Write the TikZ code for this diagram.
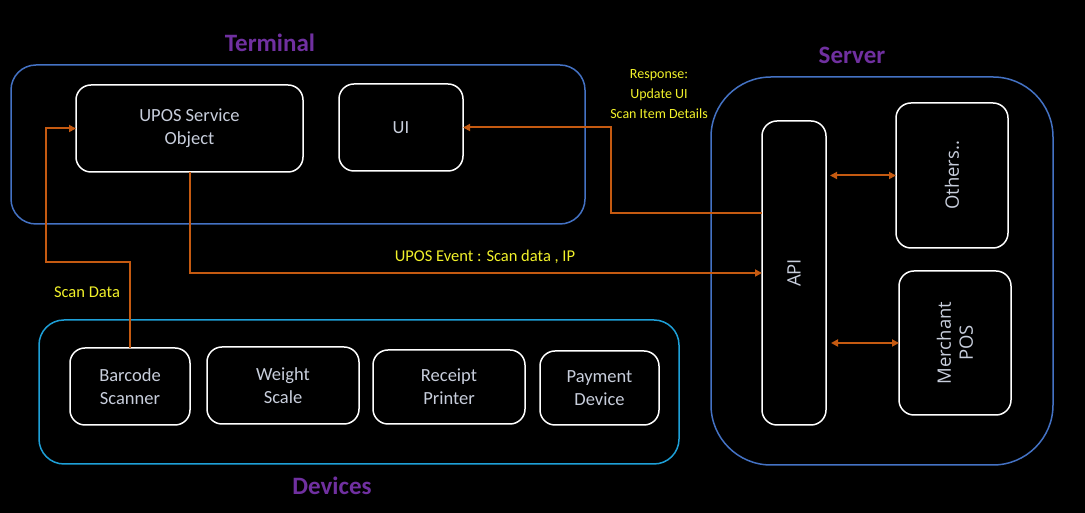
\documentclass[tikz,border=0pt]{standalone}
\usepackage{fontspec}
\setmainfont{Carlito}
\newfontfamily\rotfont{Open Sans}
\usetikzlibrary{calc,arrows.meta}
\definecolor{bgc}{HTML}{000000}
\definecolor{grpblue}{HTML}{4472C4}
\definecolor{grpcyan}{HTML}{1EA0D8}
\definecolor{wireor}{HTML}{C55A11}
\definecolor{ttlpurple}{HTML}{7030A0}
\definecolor{lblyellow}{HTML}{F2F22A}
\definecolor{boxtxt}{HTML}{C8CEDC}
\tikzset{
  x=1pt,y=1pt,
  group/.style={draw, line width=1.5pt, inner sep=0pt, outer sep=0pt, rounded corners=25pt},
  item/.style={draw=white, line width=1.5pt, inner sep=0pt, outer sep=0pt, rounded corners=15pt,
    text=boxtxt, font=\fontsize{18.5}{23}\selectfont, align=center},
  rottxt/.style={text=boxtxt, rotate=90, font=\rotfont\fontsize{18.5}{22}\selectfont, align=center},
  ttl/.style={text=ttlpurple, font=\fontsize{25}{27}\selectfont\bfseries},
  lbl/.style={text=lblyellow, font=\fontsize{16.5}{20}\selectfont, align=center},
  wire/.style={draw=wireor, line width=2pt, -{Triangle[length=7pt,width=7pt]}},
  dwire/.style={draw=wireor, line width=2pt, {Triangle[length=7pt,width=7pt]}-{Triangle[length=7pt,width=7pt]}},
}
\begin{document}
\begin{tikzpicture}
\fill[bgc] (0,0) rectangle (1085,513);
\useasboundingbox (0,0) rectangle (1085,513);
% groups
\node[group, draw=grpblue, minimum width=574pt, minimum height=159pt] (term) at (298,368.5) {};
\node[group, draw=grpblue, rounded corners=60pt, minimum width=342pt, minimum height=388pt] (srv) at (882,242) {};
\node[group, draw=grpcyan, minimum width=640pt, minimum height=144pt] (dev) at (359,121) {};
% titles
\node[ttl] (tterm) at (270,470) {Terminal};
\node[ttl] (tsrv) at (852,458) {Server};
\node[ttl] (tdev) at (332,27) {Devices};
% terminal items
\node[item, minimum width=227pt, minimum height=87pt] (upos) at (189.5,384.5) {UPOS Service\\Object};
\node[item, minimum width=124pt, minimum height=87pt] (ui) at (401,385.5) {UI};
% server items
\node[item, minimum width=64pt, minimum height=304pt] (api) at (794,240) {};
\node[rottxt] (apit) at (api.center) {API};
\node[item, minimum width=112pt, minimum height=145pt] (oth) at (952,337.5) {};
\node[rottxt] (otht) at (oth.center) {Others..};
\node[item, minimum width=112pt, minimum height=144pt] (mpos) at (955,170) {};
\node[rottxt] (mpost) at (mpos.center) {Merchant\\POS};
% devices
\node[item, minimum width=120pt, minimum height=77pt] (bs) at (130,126.5) {Barcode\\Scanner};
\node[item, minimum width=152pt, minimum height=77pt] (ws) at (283,127.5) {Weight\\Scale};
\node[item, minimum width=152pt, minimum height=74pt] (rp) at (449,126) {Receipt\\Printer};
\node[item, minimum width=119pt, minimum height=74pt] (pd) at (599.5,125) {Payment\\Device};
% connectors
\coordinate (c1) at (46,251);
\coordinate (c2) at (611,300);
\draw[wire] (bs.north) |- (c1) |- (upos.west);
\draw[wire] (upos.south) |- (api.west);
\draw[wire] ([yshift=60pt]api.west) -- (c2) |- (ui.east);
\draw[dwire] ($(api.east |- oth.west)+(4pt,0)$) -- (oth.west);
\draw[dwire] ($(api.east |- mpos.west)+(5pt,0)$) -- (mpos.west);
% labels
\node[lbl] (lscan) at (87,221) {Scan Data};
\node[lbl] (levt) at (485,256) {UPOS Event : Scan data , IP};
\node[lbl, font=\fontsize{14}{20}\selectfont] (lresp) at (659,419) {Response:\\Update UI\\Scan Item Details};
\end{tikzpicture}
\end{document}
